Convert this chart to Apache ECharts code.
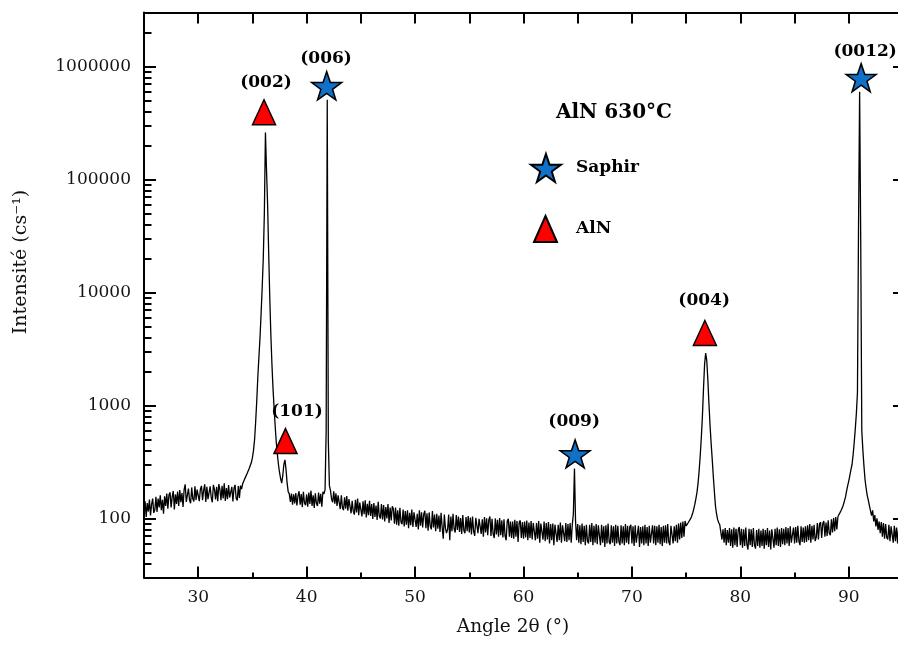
<!DOCTYPE html>
<html>
<head>
<meta charset="utf-8">
<script src="https://cdn.jsdelivr.net/npm/echarts@6/dist/echarts.min.js"></script>
<style>html,body{margin:0;padding:0;background:#fff}#chart{width:898px;height:646px}</style>
</head>
<body>
<div id="chart"></div>
<script>
// ---- Scan (2θ from 25.0° to 95.0°, step 0.1°) ----
const scanStart = 25.0;
const scanStep = 0.1;
const intensity = [
  /*25*/ 108,142,103,137,115,147,106,133,150,112,
  /*26*/ 119,155,114,150,125,160,118,146,110,157,
  /*27*/ 129,166,122,161,170,125,155,175,120,163,
  /*28*/ 134,173,129,178,139,168,126,180,200,140,
  /*29*/ 140,184,145,136,188,149,141,192,146,180,
  /*30*/ 186,142,181,194,145,177,200,140,190,148,
  /*31*/ 146,192,153,139,198,181,147,190,142,201,
  /*32*/ 181,145,194,150,205,143,186,148,197,153,
  /*33*/ 148,190,141,185,198,150,144,193,152,195,
  /*34*/ 182,203,207,225,232,248,255,276,287,312,
  /*35*/ 345,400,500,720,1100,1800,2700,4000,6500,11000,
  /*36*/ 20000,50000,260000,120000,60000,22000,9000,4200,2300,1400,
  /*37*/ 950,650,470,370,300,255,225,205,240,300,
  /*38*/ 330,270,205,172,165,140,166,132,163,136,
  /*39*/ 168,130,158,174,132,164,126,172,137,131,
  /*40*/ 163,127,169,134,176,129,160,124,167,136,
  /*41*/ 129,169,135,165,127,172,165,180,600,507000,
  /*42*/ 480,195,176,148,139,174,135,167,129,160,
  /*43*/ 157,121,160,125,118,154,122,158,117,148,
  /*44*/ 148,111,143,116,108,146,113,150,107,138,
  /*45*/ 139,104,142,109,145,102,135,107,143,105,
  /*46*/ 134,99,137,103,130,97,140,105,100,134,
  /*47*/ 98,131,94,126,100,134,91,125,96,128,
  /*48*/ 121,90,125,88,118,86,124,93,89,120,
  /*49*/ 85,116,88,118,82,112,87,120,84,113,
  /*50*/ 115,84,110,80,118,86,113,83,109,117,
  /*51*/ 82,111,78,113,85,80,116,83,108,77,
  /*52*/ 110,81,106,76,112,83,66,108,82,74,
  /*53*/ 80,108,64,104,77,110,81,75,107,79,
  /*54*/ 104,76,101,73,107,78,74,103,77,105,
  /*55*/ 75,102,72,104,77,70,101,105,74,99,
  /*56*/ 102,73,98,69,103,75,100,71,97,104,
  /*57*/ 70,99,73,67,100,72,97,69,101,71,
  /*58*/ 96,68,98,70,64,95,99,69,94,67,
  /*59*/ 94,66,97,69,95,62,92,96,67,93,
  /*60*/ 66,94,68,96,64,92,67,95,65,91,
  /*61*/ 93,64,91,66,95,61,90,92,65,94,
  /*62*/ 63,91,65,93,60,89,64,90,58,88,
  /*63*/ 90,62,88,64,92,61,87,89,63,91,
  /*64*/ 62,89,64,91,61,88,110,277,95,64,
  /*65*/ 89,61,87,59,90,62,86,58,88,63,
  /*66*/ 60,88,62,91,58,86,61,89,59,87,
  /*67*/ 86,58,88,61,85,56,87,60,90,62,
  /*68*/ 59,87,61,85,57,88,60,86,62,58,
  /*69*/ 87,60,85,58,89,61,86,59,84,88,
  /*70*/ 60,85,57,87,61,59,86,56,84,60,
  /*71*/ 85,58,88,60,84,57,86,61,59,87,
  /*72*/ 60,86,58,85,61,88,59,84,57,86,
  /*73*/ 61,87,60,89,62,58,86,88,60,85,
  /*74*/ 63,88,61,90,65,92,67,94,69,95,
  /*75*/ 86,89,92,95,99,104,111,121,133,150,
  /*76*/ 170,205,265,360,520,800,1400,2300,2900,2500,
  /*77*/ 1700,1050,680,470,340,240,175,130,110,98,
  /*78*/ 92,88,86,65,80,61,82,58,79,61,
  /*79*/ 82,57,80,55,83,58,81,56,79,84,
  /*80*/ 58,81,55,80,57,83,59,53,81,58,
  /*81*/ 80,56,82,58,54,79,57,81,55,78,
  /*82*/ 57,81,54,79,58,82,56,78,53,80,
  /*83*/ 78,55,81,58,83,57,80,56,82,59,
  /*84*/ 81,58,84,60,82,57,85,61,59,83,
  /*85*/ 60,84,61,86,63,58,85,62,83,61,
  /*86*/ 85,62,87,64,89,61,86,65,88,63,
  /*87*/ 68,91,65,89,93,67,90,95,69,92,
  /*88*/ 70,96,74,71,98,75,101,77,103,80,
  /*89*/ 104,108,113,118,124,132,143,155,175,195,
  /*90*/ 215,240,270,300,365,470,620,850,1300,40000,
  /*91*/ 597000,30000,600,400,290,220,185,160,145,130,
  /*92*/ 130,106,118,94,107,85,100,79,94,74,
  /*93*/ 93,69,91,66,89,68,65,88,63,85,
  /*94*/ 84,61,86,63,83,60,85,62,82,61,
  /*95*/ 72
];

// ---- Peak markers ----
const saphirAngle = [41.85, 64.76, 91.14];
const saphirIntensity = [674000, 372, 794000];
const alnAngle = [36.07, 38.05, 76.73];
const alnIntensity = [393000, 484, 4375];

// ---- Peak annotations (Miller indices) ----
const peakLabels = ['(002)', '(006)', '(101)', '(009)', '(004)', '(0012)'];
const peakLabelAngle = [36.25, 41.79, 39.11, 64.67, 76.66, 91.51];
const peakLabelIntensity = [718000, 1170000, 891, 713, 8410, 1350000];

// ---- Axis ticks ----
const xMajorTicks = [30, 40, 50, 60, 70, 80, 90];
const xMinorTicks = [25, 35, 45, 55, 65, 75, 85, 95];
const xTopTicks = [25, 30, 35, 40, 45, 50, 55, 60, 65, 70, 75, 80, 85, 90, 95];
const yMajorTicks = [100, 1000, 10000, 100000, 1000000];
const yMinorTicks = [40, 50, 60, 70, 80, 90,
  200, 300, 400, 500, 600, 700, 800, 900,
  2000, 3000, 4000, 5000, 6000, 7000, 8000, 9000,
  20000, 30000, 40000, 50000, 60000, 70000, 80000, 90000,
  200000, 300000, 400000, 500000, 600000, 700000, 800000, 900000,
  2000000];

const xMin = 25, xMax = 95, yMin = 30, yMax = 3000000;

// ---- build ----
const scanData = intensity.map((v, i) => [Math.round((scanStart + i * scanStep) * 10) / 10, v]);
const saphirData = saphirAngle.map((a, i) => [a, saphirIntensity[i]]);
const alnData = alnAngle.map((a, i) => [a, alnIntensity[i]]);
const labelData = peakLabels.map((t, i) => ({ name: t, value: [peakLabelAngle[i], peakLabelIntensity[i]] }));

const SERIF = '"DejaVu Serif", serif';
const STAR = 'path://M50,0 L61.8,35.1 L98.6,35.1 L68.8,57 L79.4,91 L50,70 L20.6,91 L31.2,57 L1.4,35.1 L38.2,35.1 Z';
const axisLine = { show: true, lineStyle: { color: '#000', width: 2 } };
const tickStyle = { color: '#000', width: 2 };
const labelColor = '#151515';

const chart = echarts.init(document.getElementById('chart'), null, { renderer: 'canvas' });
chart.setOption({
  animation: false,
  backgroundColor: '#fff',
  textStyle: { fontFamily: SERIF },
  grid: { left: 144, top: 12.5, width: 759, height: 565, containLabel: false, outerBoundsMode: 'none' },
  title: {
    text: 'AlN 630°C', left: 556, top: 103, padding: 0,
    textStyle: { fontFamily: SERIF, fontWeight: 'bold', fontSize: 20, color: '#000' }
  },
  legend: [
    { data: ['Saphir'], left: 530, top: 153, padding: 0, itemWidth: 30, itemHeight: 28, selectedMode: false,
      textStyle: { fontFamily: SERIF, fontWeight: 'bold', fontSize: 17, color: '#000', padding: [0, 0, 0, 10] } },
    { data: ['AlN'], left: 533, top: 215, padding: 0, itemWidth: 23, itemHeight: 26, selectedMode: false,
      textStyle: { fontFamily: SERIF, fontWeight: 'bold', fontSize: 17, color: '#000', padding: [0, 0, 0, 14] } }
  ],
  xAxis: [
    { type: 'value', min: xMin, max: xMax, position: 'bottom', axisLine: axisLine,
      axisTick: { show: true, inside: true, length: 11, lineStyle: tickStyle, customValues: xMajorTicks },
      axisLabel: { show: true, customValues: xMajorTicks, margin: 12, fontFamily: SERIF, fontSize: 17, color: labelColor },
      splitLine: { show: false } },
    { type: 'value', min: xMin, max: xMax, position: 'bottom', axisLine: { show: false },
      axisTick: { show: true, inside: true, length: 5, lineStyle: tickStyle, customValues: xMinorTicks },
      axisLabel: { show: false }, splitLine: { show: false } },
    { type: 'value', min: xMin, max: xMax, position: 'top', axisLine: axisLine,
      axisTick: { show: true, inside: true, length: 11, lineStyle: tickStyle, customValues: xTopTicks },
      axisLabel: { show: false }, splitLine: { show: false } }
  ],
  yAxis: [
    { type: 'log', logBase: 10, min: yMin, max: yMax, position: 'left', axisLine: axisLine,
      axisTick: { show: true, inside: true, length: 12, lineStyle: tickStyle, customValues: yMajorTicks },
      axisLabel: { show: true, customValues: yMajorTicks, margin: 13, fontFamily: SERIF, fontSize: 17, color: labelColor,
        formatter: v => String(Math.round(v)) },
      splitLine: { show: false } },
    { type: 'log', logBase: 10, min: yMin, max: yMax, position: 'left', axisLine: { show: false },
      axisTick: { show: true, inside: true, length: 7.5, lineStyle: tickStyle, customValues: yMinorTicks },
      axisLabel: { show: false }, splitLine: { show: false } },
    { type: 'log', logBase: 10, min: yMin, max: yMax, position: 'right', axisLine: axisLine,
      axisTick: { show: true, inside: true, length: 10, lineStyle: tickStyle, customValues: yMajorTicks },
      axisLabel: { show: false }, splitLine: { show: false } }
  ],
  graphic: [
    { type: 'text', x: 513, y: 627, silent: true,
      style: { text: 'Angle 2θ (°)', font: '18.5px "DejaVu Serif"', fill: '#111', align: 'center', verticalAlign: 'middle', textAlign: 'center', textVerticalAlign: 'middle' } },
    { type: 'text', x: 21, y: 262, rotation: Math.PI / 2, silent: true,
      style: { text: 'Intensité (cs⁻¹)', font: '19px "DejaVu Serif"', fill: '#111', align: 'center', verticalAlign: 'middle', textAlign: 'center', textVerticalAlign: 'middle' } }
  ],
  series: [
    { name: 'scan', type: 'line', xAxisIndex: 0, yAxisIndex: 0, data: scanData, showSymbol: false, symbol: 'none',
      lineStyle: { color: '#000', width: 1.3 }, z: 2, silent: true },
    { name: 'Saphir', type: 'scatter', xAxisIndex: 0, yAxisIndex: 0, data: saphirData, symbol: STAR, symbolSize: [30, 28],
      itemStyle: { color: '#1170c8', borderColor: '#000', borderWidth: 1.5, opacity: 1 }, z: 5 },
    { name: 'AlN', type: 'scatter', xAxisIndex: 0, yAxisIndex: 0, data: alnData, symbol: 'triangle', symbolSize: [23, 25],
      itemStyle: { color: '#ff0000', borderColor: '#000', borderWidth: 1.5, opacity: 1 }, z: 5 },
    { name: 'labels', type: 'scatter', xAxisIndex: 0, yAxisIndex: 0, data: labelData, symbolSize: 0, z: 6,
      itemStyle: { opacity: 1 },
      label: { show: true, position: 'inside', formatter: '{b}', fontFamily: SERIF, fontWeight: 'bold', fontSize: 17,
        color: '#000', opacity: 1, textBorderWidth: 0 } }
  ]
});
</script>
</body>
</html>
